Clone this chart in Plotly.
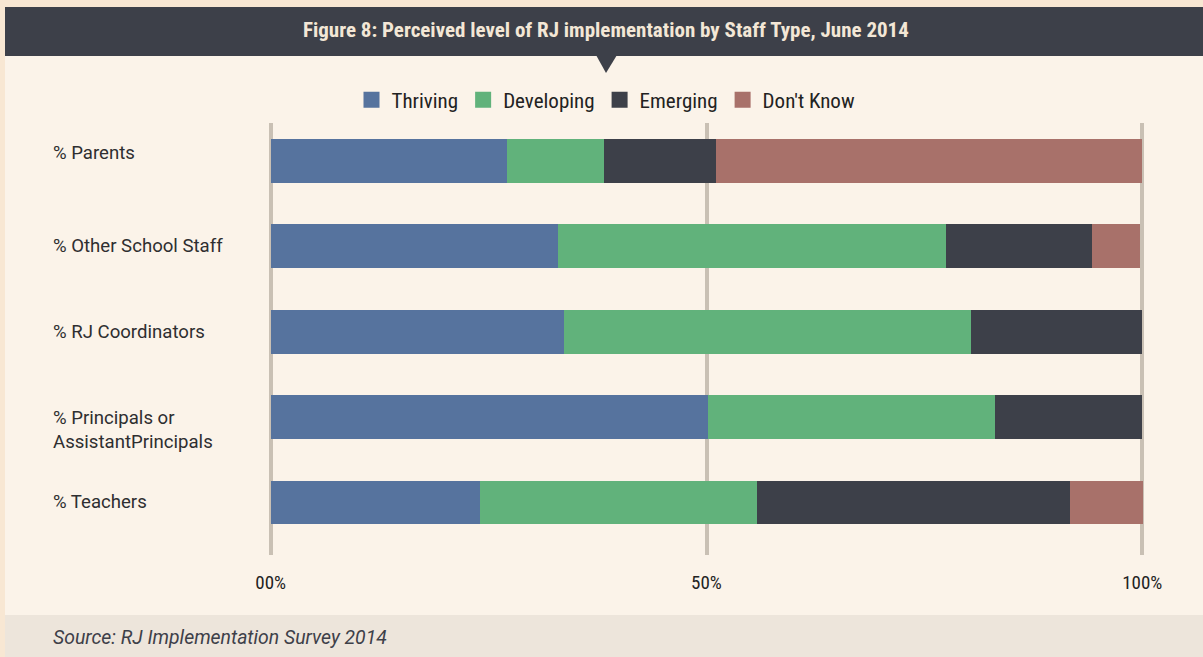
import plotly.graph_objects as go

# Survey responses by staff type (percent of respondents)
staff_types = ["% Parents", "% Other School Staff", "% RJ Coordinators",
               "% Principals or<br>AssistantPrincipals", "% Teachers"]
thriving = [27.1, 33.0, 33.7, 50.2, 24.0]
developing = [11.1, 44.5, 46.7, 32.9, 31.8]
emerging = [12.9, 16.7, 19.6, 16.9, 35.9]
dont_know = [48.9, 5.5, 0.0, 0.0, 8.4]

series_names = ["Thriving", "Developing", "Emerging", "Don't Know"]
series_colors = ["#56739e", "#61b27b", "#3d4049", "#a8716a"]
tick_values = [0, 50, 100]
tick_labels = ["00%", "50%", "100%"]

title_text = "Figure 8: Perceived level of RJ implementation by Staff Type, June 2014"
source_text = "Source: RJ Implementation Survey 2014"

W, H = 1203, 657
ML, MR, MT, MB = 262, 52, 123, 102
PW, PH = W - ML - MR, H - MT - MB

PANEL = "#fbf3e9"
OUTER = "#f8e7d3"
FOOT = "#ede5db"
DARK = "#3d4049"
NARROW = "Liberation Sans Narrow, Roboto Condensed, Roboto, sans-serif"


def px(x):
    return (x - ML) / PW


def py(y):
    return (H - MB - y) / PH


fig = go.Figure()
cats = list(range(len(staff_types)))
for name, vals, col in zip(series_names, [thriving, developing, emerging, dont_know], series_colors):
    fig.add_trace(go.Bar(
        y=cats, x=vals, name=name, orientation="h",
        marker=dict(color=col, line=dict(width=0)),
        width=0.515, showlegend=False, hoverinfo="x+name",
    ))
    # legend swatch
    fig.add_trace(go.Scatter(
        x=[None], y=[None], mode="markers", name=name,
        marker=dict(symbol="square", size=18, color=col),
    ))

shapes = [
    # outer frame and panel
    dict(type="rect", xref="paper", yref="paper", x0=px(5), x1=px(W), y0=py(7), y1=py(615),
         fillcolor=PANEL, line=dict(width=0), layer="below"),
    dict(type="rect", xref="paper", yref="paper", x0=px(5), x1=px(W), y0=py(615), y1=py(H),
         fillcolor=FOOT, line=dict(width=0), layer="below"),
    # title band and pointer
    dict(type="rect", xref="paper", yref="paper", x0=px(5), x1=px(W), y0=py(7), y1=py(56),
         fillcolor=DARK, line=dict(width=0), layer="below"),
    dict(type="path", xref="paper", yref="paper",
         path=f"M{px(596)},{py(55)} L{px(617)},{py(55)} L{px(606)},{py(73)} Z",
         fillcolor=DARK, line=dict(width=0), layer="below"),
]

annotations = [
    dict(text=f"<b>{title_text}</b>", xref="paper", yref="paper", x=px(606), y=py(30),
         showarrow=False, xanchor="center", yanchor="middle",
         font=dict(family=NARROW, size=21, color="#f3e7d6")),
    dict(text=f"<i>{source_text}</i>", xref="paper", yref="paper", x=px(51), y=py(637),
         showarrow=False, xanchor="left", yanchor="middle",
         font=dict(family="Roboto", size=19.4, color=DARK)),
]
label_shift = {0: 8, 3: -13}
for i, lab in enumerate(staff_types):
    annotations.append(dict(
        text=lab, xref="paper", yref="y", x=px(51), y=i, showarrow=False,
        xanchor="left", yanchor="middle", align="left", yshift=label_shift.get(i, 0),
        font=dict(family="Roboto", size=18.6, color="#2e2e30"),
    ))

fig.update_layout(
    width=W, height=H,
    margin=dict(l=ML, r=MR, t=MT, b=MB, pad=0, autoexpand=False),
    paper_bgcolor=OUTER, plot_bgcolor=PANEL,
    barmode="stack",
    shapes=shapes, annotations=annotations,
    showlegend=True,
    legend=dict(orientation="h", xref="container", yref="container", traceorder="normal",
                x=606 / W, y=1 - 100 / H, xanchor="center", yanchor="middle",
                bgcolor="rgba(0,0,0,0)", itemwidth=30,
                font=dict(family=NARROW, size=21, color="#222222")),
    xaxis=dict(range=[-1, 101], tickvals=tick_values, ticktext=tick_labels,
               showgrid=True, gridcolor="#c9c0b4", gridwidth=4, zeroline=False,
               showline=False, ticks="outside", ticklen=10, tickcolor="rgba(0,0,0,0)",
               tickfont=dict(family=NARROW, size=19, color="#222222"), fixedrange=True),
    yaxis=dict(range=[4.615, -0.445], showticklabels=False, showgrid=False,
               zeroline=False, showline=False, fixedrange=True),
)

fig.write_html("out.html")
